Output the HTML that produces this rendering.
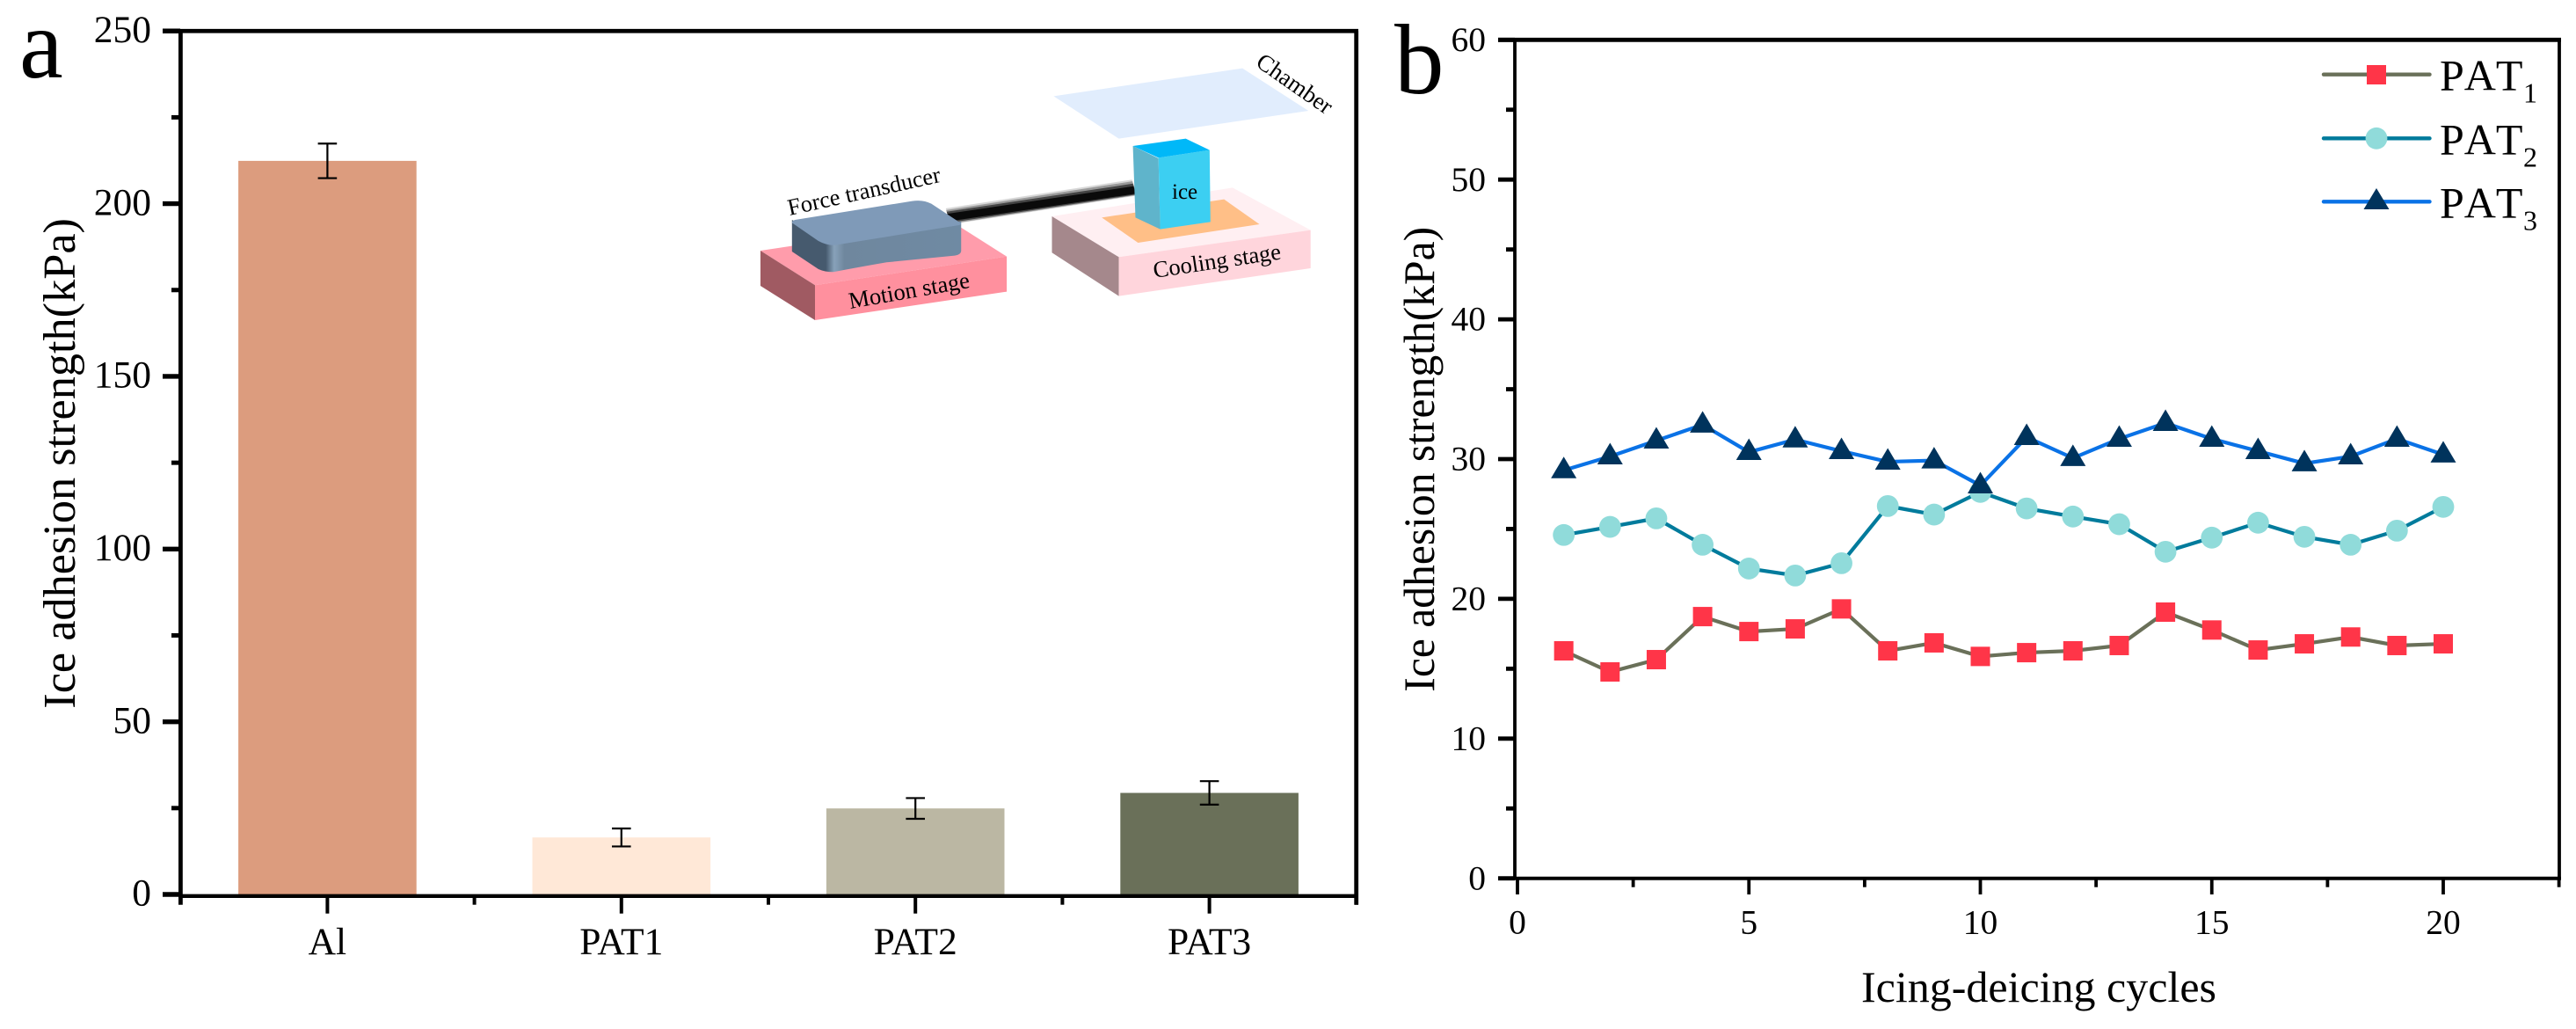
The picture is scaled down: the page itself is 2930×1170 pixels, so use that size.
<!DOCTYPE html>
<html>
<head>
<meta charset="utf-8">
<title>Ice adhesion strength charts</title>
<style>
html,body{margin:0;padding:0;background:#fff;width:2930px;height:1170px;overflow:hidden}
svg{display:block}
text{font-family:"Liberation Serif","Times New Roman",serif;fill:#000}
.nokern{font-kerning:none}
</style>
</head>
<body>
<svg id="fig" xmlns="http://www.w3.org/2000/svg" width="2930" height="1170" viewBox="0 0 2930 1170">
  <rect width="2930" height="1170" fill="#fff"/>
  <defs>
    <linearGradient id="frontGrad" x1="0" x2="1" y1="0" y2="0">
      <stop offset="0" stop-color="#465a6e"/>
      <stop offset="0.2" stop-color="#465a6e"/>
      <stop offset="0.25" stop-color="#88a2ba"/>
      <stop offset="0.31" stop-color="#6f879e"/>
      <stop offset="1" stop-color="#6f8aa3"/>
    </linearGradient>
  </defs>

  <text x="22" y="88" font-size="112">a</text>
  <text x="1586" y="106" font-size="113">b</text>

  <g id="barBars"></g>
  <g id="barErrors"></g>
  <g id="barAxes"></g>
  <text transform="translate(85,805.7) rotate(-90)" font-size="52.3">Ice adhesion strength(kPa)</text>

  <g>
    <g transform="translate(800,50) scale(0.4847,0.3333)">
      <polygon points="822,178 1265,83 1420,228 975,323" fill="#e1edfd"/>
      <g>
        <polygon points="134,705 584,607 712,725 262,823" fill="#ff9cab"/>
        <polygon points="134,705 262,823 262,942 134,825" fill="#a05a62"/>
        <polygon points="262,823 712,725 712,845 262,942" fill="#ff909e"/>
      </g>
      <g>
        <line x1="575" y1="588" x2="1012" y2="490" stroke="#d8d8d8" stroke-width="56"/>
        <line x1="575" y1="590" x2="1012" y2="492" stroke="#999" stroke-width="48"/>
        <line x1="575" y1="591" x2="1012" y2="495" stroke="#444" stroke-width="38"/>
        <line x1="575" y1="592" x2="1012" y2="498" stroke="#0a0a0a" stroke-width="26"/>
      </g>
      <g>
        <path d="M208,600 L208,708 L270,768 Q285,778 305,778 Q370,760 430,745 L590,722 Q605,718 605,705 L605,605 L300,670 Z" fill="url(#frontGrad)"/>
        <path d="M215,600 L490,536 Q515,530 535,545 L605,612 Q605,616 600,618 L310,686 Q290,688 270,672 L208,610 Q208,603 215,600 Z" fill="#7f9ab8"/>
      </g>
      <g>
        <polygon points="818,588 1242,490 1425,635 975,727" fill="#ffeff2"/>
        <polygon points="818,588 975,727 975,860 818,712" fill="#a5888c"/>
        <polygon points="975,727 1425,635 1425,765 975,860" fill="#ffd5dc"/>
        <polygon points="935,592 1222,530 1305,615 1020,678" fill="#ffbf87"/>
      </g>
      <g>
        <polygon points="1008,348 1068,390 1072,632 1014,592" fill="#5fb4cb"/>
        <polygon points="1068,388 1188,362 1190,607 1072,632" fill="#3ccff2"/>
        <polygon points="1008,348 1132,323 1188,362 1068,388" fill="#00b8f8"/>
      </g>
    </g>
    <text transform="translate(898,245) rotate(-12.5)" font-size="26.5">Force transducer</text>
    <text transform="translate(967,351) rotate(-10)" font-size="26.5">Motion stage</text>
    <text transform="translate(1313,316) rotate(-8.5)" font-size="26.5">Cooling stage</text>
    <text x="1333" y="226" font-size="25">ice</text>
    <text transform="translate(1427,74) rotate(35)" font-size="27">Chamber</text>
  </g>

  <g id="lineAxes"></g>
  <g id="lineSeries"></g>
  <text transform="translate(1631,786.7) rotate(-90)" font-size="49.6">Ice adhesion strength(kPa)</text>
  <text x="2319" y="1139" font-size="50" text-anchor="middle">Icing-deicing cycles</text>

  <g>
    <g>
      <line x1="2643" y1="84.7" x2="2763.5" y2="84.7" stroke="#6a7059" stroke-width="4.4" stroke-linecap="round"/>
      <rect x="2692" y="74" width="22" height="22" fill="#ff3548"/>
      <text class="nokern" x="2775" y="102.7" font-size="50">PAT<tspan font-size="32" x="2870" y="116.7">1</tspan></text>
    </g>
    <g>
      <line x1="2643" y1="157.3" x2="2763.5" y2="157.3" stroke="#007b9c" stroke-width="4.4" stroke-linecap="round"/>
      <circle cx="2703" cy="157.3" r="12.4" fill="#90dbda"/>
      <text class="nokern" x="2775" y="175.3" font-size="50">PAT<tspan font-size="32" x="2870" y="189.3">2</tspan></text>
    </g>
    <g>
      <line x1="2643" y1="229.3" x2="2763.5" y2="229.3" stroke="#0a72e6" stroke-width="4.4" stroke-linecap="round"/>
      <polygon points="2703,214 2717.5,238 2688.5,238" fill="#00335c"/>
      <text class="nokern" x="2775" y="247.3" font-size="50">PAT<tspan font-size="32" x="2870" y="261.3">3</tspan></text>
    </g>
  </g>
</svg>

<script>
// Panel a data
const barCategories = ['Al', 'PAT1', 'PAT2', 'PAT3'];
const barValues = [212.4, 16.5, 24.9, 29.4];
const barErrorValues = [5.0, 2.6, 3.0, 3.4];
const barColors = ['#dc9c7e', '#ffe8d7', '#bbb7a3', '#6a7059'];
const barYTickLabels = ['0', '50', '100', '150', '200', '250'];
const barYTickValues = [0, 50, 100, 150, 200, 250];
const barYMinorValues = [25, 75, 125, 175, 225];

// Panel b data
const cycles = [1,2,3,4,5,6,7,8,9,10,11,12,13,14,15,16,17,18,19,20];
const pat1Values = [16.28,14.77,15.65,18.73,17.66,17.85,19.28,16.28,16.85,15.88,16.15,16.28,16.66,19.05,17.77,16.34,16.78,17.27,16.66,16.78];
const pat2Values = [24.57,25.15,25.76,23.87,22.17,21.67,22.55,26.64,26.03,27.65,26.47,25.89,25.34,23.37,24.38,25.45,24.44,23.87,24.88,26.58];
const pat3Values = [29.2,30.19,31.32,32.46,30.5,31.4,30.57,29.81,29.9,28.11,31.57,30.07,31.45,32.58,31.45,30.57,29.69,30.19,31.45,30.32];
const lineYTickValues = [0, 10, 20, 30, 40, 50, 60];
const lineYMinorValues = [5, 15, 25, 35, 45, 55];
const lineXTickValues = [0, 5, 10, 15, 20];
const lineXMinorValues = [2.5, 7.5, 12.5, 17.5, 22.5];

const NS = 'http://www.w3.org/2000/svg';
function mk(tag, parent, props) {
  const el = document.createElementNS(NS, tag);
  for (const k in props) el.setAttribute(k, props[k]);
  parent.appendChild(el);
  return el;
}

// Axis functions
function barY(v) { return 1017 - v * 3.927; }
function barX(i) { return 372.4 + i * 334.4; }
function lineY(v) { return 998.7 - v * 15.89; }
function lineX(v) { return 1726 + v * 52.65; }

// ---------- Panel a ----------
const barBars = document.getElementById('barBars');
const barErrors = document.getElementById('barErrors');
const barAxes = document.getElementById('barAxes');

barCategories.forEach(function (name, i) {
  const top = barY(barValues[i]);
  const r = mk('rect', barBars, { x: barX(i) - 101.3, y: top, width: 202.6, height: 1018 - top, fill: barColors[i] });
  
  

  const hi = barY(barValues[i] + barErrorValues[i]);
  const lo = barY(barValues[i] - barErrorValues[i]);
  const eg = mk('g', barErrors, { stroke: '#000', 'stroke-width': 2.2 });
  
  
  mk('line', eg, { x1: barX(i), x2: barX(i), y1: hi, y2: lo });
  mk('line', eg, { x1: barX(i) - 10.8, x2: barX(i) + 10.8, y1: hi, y2: hi });
  mk('line', eg, { x1: barX(i) - 10.8, x2: barX(i) + 10.8, y1: lo, y2: lo });

  const t = mk('line', barAxes, { x1: barX(i), x2: barX(i), y1: 1018, y2: 1038.7, stroke: '#000', 'stroke-width': 4 });
  
  
  const m = mk('line', barAxes, { x1: barX(i) + 167.2, x2: barX(i) + 167.2, y1: 1018, y2: 1028.7, stroke: '#000', 'stroke-width': 4 });
  
  
  const lb = mk('text', barAxes, { x: barX(i), y: 1085, 'font-size': 43.5, 'text-anchor': 'middle' });
  lb.textContent = name;
  
  
});

barYTickValues.forEach(function (v, i) {
  const t = mk('line', barAxes, { x1: 185, x2: 205, y1: barY(v), y2: barY(v), stroke: '#000', 'stroke-width': 5.4 });
  
  
  const lb = mk('text', barAxes, { x: 172, y: barY(v) + 12.7, 'font-size': 43.5, 'text-anchor': 'end' });
  lb.textContent = barYTickLabels[i];
  
  
});
barYMinorValues.forEach(function (v) {
  const t = mk('line', barAxes, { x1: 195, x2: 205, y1: barY(v), y2: barY(v), stroke: '#000', 'stroke-width': 5 });
  
  
});

const barLeftAxis = mk('line', barAxes, { x1: 205.4, x2: 205.4, y1: barY(250), y2: 1028.7, stroke: '#000', 'stroke-width': 4.8 });


const barRightAxis = mk('line', barAxes, { x1: 1542.7, x2: 1542.7, y1: barY(250), y2: 1028.7, stroke: '#000', 'stroke-width': 4.8 });


const barTopAxis = mk('line', barAxes, { x1: 185, x2: 1545, y1: barY(250), y2: barY(250), stroke: '#000', 'stroke-width': 4.8 });


const barBottomAxis = mk('line', barAxes, { x1: 205, x2: 1545, y1: 1018.8, y2: 1018.8, stroke: '#000', 'stroke-width': 4.4 });



// ---------- Panel b ----------
const lineAxes = document.getElementById('lineAxes');
const lineSeries = document.getElementById('lineSeries');

lineYTickValues.forEach(function (v) {
  const t = mk('line', lineAxes, { x1: 1704, x2: 1723, y1: lineY(v), y2: lineY(v), stroke: '#000', 'stroke-width': 4.8 });
  
  
  const lb = mk('text', lineAxes, { x: 1690, y: lineY(v) + 12.6, 'font-size': 39.5, 'text-anchor': 'end' });
  lb.textContent = String(v);
  
  
});
lineYMinorValues.forEach(function (v) {
  const t = mk('line', lineAxes, { x1: 1713, x2: 1723, y1: lineY(v), y2: lineY(v), stroke: '#000', 'stroke-width': 4.8 });
  
  
});
lineXTickValues.forEach(function (v) {
  const t = mk('line', lineAxes, { x1: lineX(v), x2: lineX(v), y1: 999, y2: 1017, stroke: '#000', 'stroke-width': 3.8 });
  
  
  const lb = mk('text', lineAxes, { x: lineX(v), y: 1061.7, 'font-size': 39.5, 'text-anchor': 'middle' });
  lb.textContent = String(v);
  
  
});
lineXMinorValues.forEach(function (v) {
  const t = mk('line', lineAxes, { x1: lineX(v), x2: lineX(v), y1: 999, y2: 1008.7, stroke: '#000', 'stroke-width': 3.8 });
  
  
});

const lineLeftAxis = mk('line', lineAxes, { x1: 1723, x2: 1723, y1: lineY(60), y2: lineY(0), stroke: '#000', 'stroke-width': 3.8 });


const lineRightAxis = mk('line', lineAxes, { x1: 2911, x2: 2911, y1: lineY(60), y2: lineY(0), stroke: '#000', 'stroke-width': 3.8 });


const lineTopAxis = mk('line', lineAxes, { x1: 1704, x2: 2913, y1: lineY(60), y2: lineY(60), stroke: '#000', 'stroke-width': 4.8 });


const lineBottomAxis = mk('line', lineAxes, { x1: 1704, x2: 2913, y1: lineY(0), y2: lineY(0), stroke: '#000', 'stroke-width': 4 });



function polyPoints(values) {
  return values.map(function (v, i) { return lineX(cycles[i]) + ',' + lineY(v); }).join(' ');
}

// PAT1: squares
const g1 = mk('g', lineSeries, {});


const l1 = mk('polyline', g1, { points: polyPoints(pat1Values), fill: 'none', stroke: '#6a7059', 'stroke-width': 4.2 });


pat1Values.forEach(function (v, i) {
  const p = mk('rect', g1, { x: lineX(cycles[i]) - 11, y: lineY(v) - 11, width: 22, height: 22, fill: '#ff3548' });
  
  
});

// PAT2: circles
const g2 = mk('g', lineSeries, {});


const l2 = mk('polyline', g2, { points: polyPoints(pat2Values), fill: 'none', stroke: '#007b9c', 'stroke-width': 4.2 });


pat2Values.forEach(function (v, i) {
  const p = mk('circle', g2, { cx: lineX(cycles[i]), cy: lineY(v), r: 12.4, fill: '#90dbda' });
  
  
});

// PAT3: triangles
const g3 = mk('g', lineSeries, {});


const l3 = mk('polyline', g3, { points: polyPoints(pat3Values), fill: 'none', stroke: '#0a72e6', 'stroke-width': 4.2 });


pat3Values.forEach(function (v, i) {
  const cx = lineX(cycles[i]), cy = lineY(v);
  const p = mk('polygon', g3, { points: cx + ',' + (cy - 15.5) + ' ' + (cx + 14.5) + ',' + (cy + 9) + ' ' + (cx - 14.5) + ',' + (cy + 9), fill: '#00335c' });
  
  
});
</script>
</body>
</html>
